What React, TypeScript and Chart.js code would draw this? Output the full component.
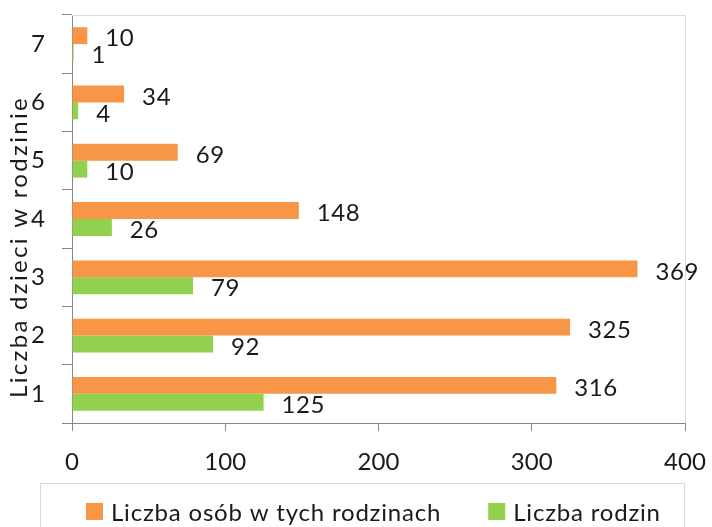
import React, { useEffect, useRef } from "react";
import { Chart, registerables } from "chart.js";

Chart.register(...registerables);

const categories = ["1", "2", "3", "4", "5", "6", "7"];
const osobyValues = [316, 325, 369, 148, 69, 34, 10];
const rodzinyValues = [125, 92, 79, 26, 10, 4, 1];
const seriesNames = ["Liczba osób w tych rodzinach", "Liczba rodzin"];
const xTicks = [0, 100, 200, 300, 400];
const axisTitle = "Liczba dzieci w rodzinie";

const FONT = "Lato, 'Open Sans', sans-serif";
const TEXT = "#1a1a1a";

const extrasPlugin = {
  id: "extras",
  afterDatasetsDraw(chart: any) {
    const ctx = chart.ctx;
    const area = chart.chartArea;
    ctx.save();
    // plot area top/right border
    ctx.strokeStyle = "#d9d9d9";
    ctx.lineWidth = 1;
    ctx.beginPath();
    ctx.moveTo(area.left, area.top + 0.5);
    ctx.lineTo(area.right + 0.5, area.top + 0.5);
    ctx.lineTo(area.right + 0.5, area.bottom);
    ctx.stroke();
    // data labels
    ctx.font = `24px ${FONT}`;
    (ctx as any).letterSpacing = "0.6px";
    ctx.fillStyle = TEXT;
    ctx.textAlign = "left";
    ctx.textBaseline = "middle";
    chart.data.datasets.forEach((ds: any, di: number) => {
      const meta = chart.getDatasetMeta(di);
      meta.data.forEach((bar: any, i: number) => {
        ctx.fillText(String(ds.data[i]), bar.x + 18, bar.y + 3);
      });
    });
    (ctx as any).letterSpacing = "0px";
    ctx.restore();
  },
  afterDraw(chart: any) {
    const ctx = chart.ctx;
    ctx.save();
    // axis title
    ctx.font = `24px ${FONT}`;
    (ctx as any).letterSpacing = "2.3px";
    ctx.fillStyle = TEXT;
    ctx.textAlign = "center";
    ctx.textBaseline = "middle";
    ctx.translate(19, 247);
    ctx.rotate(-Math.PI / 2);
    ctx.fillText(axisTitle, 0, 0);
    (ctx as any).letterSpacing = "0px";
    ctx.restore();

    // legend
    ctx.save();
    ctx.strokeStyle = "#d9d9d9";
    ctx.lineWidth = 1;
    ctx.strokeRect(40.5, 483.5, 644, 60);
    ctx.font = `24px ${FONT}`;
    (ctx as any).letterSpacing = "0.8px";
    ctx.textBaseline = "middle";
    ctx.textAlign = "left";
    let x = 86;
    chart.data.datasets.forEach((ds: any) => {
      ctx.fillStyle = ds.backgroundColor;
      ctx.fillRect(x, 503, 17, 17);
      ctx.fillStyle = TEXT;
      ctx.fillText(ds.label, x + 25, 513);
      x += 25 + ctx.measureText(ds.label).width + 47;
    });
    (ctx as any).letterSpacing = "0px";
    ctx.restore();
  },
};

export default function App() {
  const ref = useRef<HTMLCanvasElement>(null);
  useEffect(() => {
    document.body.style.margin = "0";
    const chart = new Chart(ref.current!, {
      type: "bar",
      data: {
        labels: categories,
        datasets: [
          {
            label: seriesNames[0],
            data: osobyValues,
            backgroundColor: "#F79646",
            categoryPercentage: 0.58,
            barPercentage: 1,
          },
          {
            label: seriesNames[1],
            data: rodzinyValues,
            backgroundColor: "#92D050",
            categoryPercentage: 0.58,
            barPercentage: 1,
          },
        ],
      },
      options: {
        indexAxis: "y",
        animation: false,
        responsive: false,
        layout: { padding: { left: 0, right: 27, top: 15, bottom: 0 } },
        plugins: {
          legend: { display: false },
          tooltip: { enabled: false },
        },
        scales: {
          x: {
            min: 0,
            max: 400,
            afterBuildTicks: (scale: any) => {
              scale.ticks = xTicks.map((v) => ({ value: v }));
            },
            afterFit: (scale: any) => {
              scale.height = 104;
              scale.paddingLeft = 0;
              scale.paddingRight = 0;
            },
            grid: {
              drawOnChartArea: false,
              drawTicks: true,
              tickLength: 8,
              color: "#868686",
            },
            border: { display: true, color: "#868686" },
            ticks: {
              padding: 17,
              color: TEXT,
              font: { family: FONT, size: 24 },
              maxRotation: 0,
            },
          },
          y: {
            reverse: true,
            afterFit: (scale: any) => {
              scale.width = 72;
              scale.paddingTop = 0;
              scale.paddingBottom = 0;
            },
            grid: {
              drawOnChartArea: false,
              drawTicks: true,
              tickLength: 10,
              color: "#868686",
              offset: true,
            },
            border: { display: true, color: "#868686" },
            ticks: {
              padding: 17,
              color: TEXT,
              font: { family: FONT, size: 24 },
            },
          },
        },
      },
      plugins: [extrasPlugin],
    });
    return () => chart.destroy();
  }, []);
  return <canvas ref={ref} width={712} height={527} style={{ display: "block" }} />;
}
